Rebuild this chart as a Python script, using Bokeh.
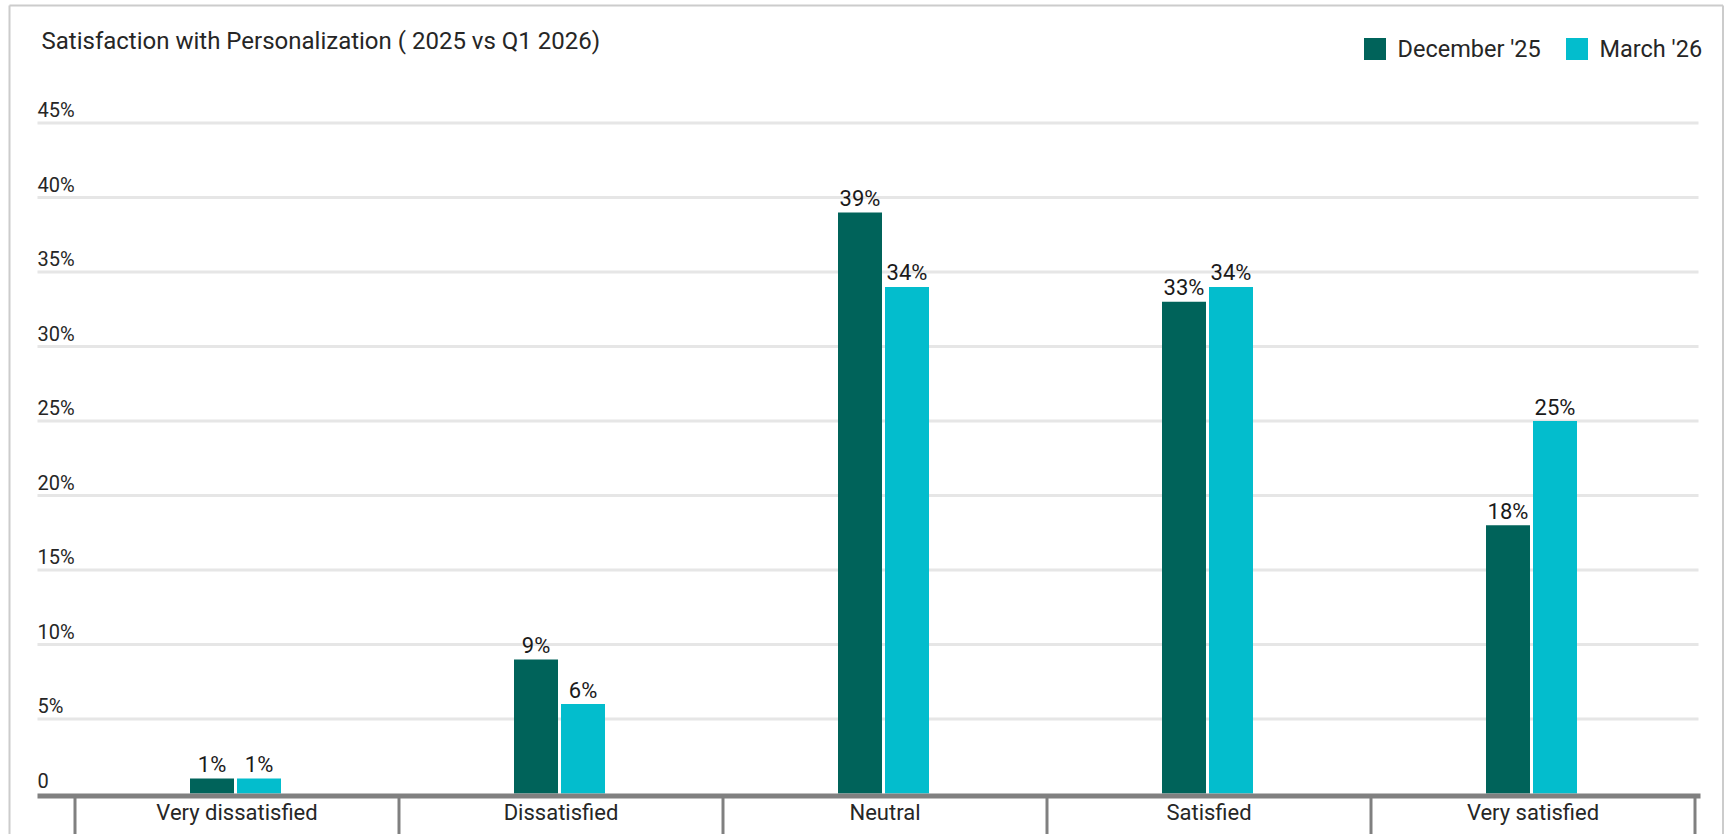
from bokeh.plotting import figure
from bokeh.models import Range1d, ColumnDataSource
from bokeh.core.properties import value
from bokeh.embed import file_html
from bokeh.resources import INLINE
import numpy as np

# ---- data -------------------------------------------------------------
categories = ["Very dissatisfied", "Dissatisfied", "Neutral", "Satisfied", "Very satisfied"]
series_names = ["December '25", "March '26"]
december_25 = [1, 9, 39, 33, 18]
march_26 = [1, 6, 34, 34, 25]
y_ticks = [0, 5, 10, 15, 20, 25, 30, 35, 40, 45]
y_tick_labels = ["0", "5%", "10%", "15%", "20%", "25%", "30%", "35%", "40%", "45%"]
title_text = "Satisfaction with Personalization ( 2025 vs Q1 2026)"

# ---- styling ----------------------------------------------------------
DARK = "#00635a"
CYAN = "#03bdcd"
GRID = "#e6e6e6"
AXIS = "#808080"
FRAME = "#cccccc"
TEXT = "#262626"
FONT = value("Roboto")

W, H = 1735, 834

# page-pixel layout: category band starts at X0_PX, each band CAT_PX wide;
# zero line at Y0_PX, PCT_PX pixels per percentage point
X0_PX, CAT_PX = 74.5, 324.0
Y0_PX, PCT_PX = 793.0, 14.9


def xd(px):
    return (px - X0_PX) / CAT_PX


def yd(px):
    return (Y0_PX - px) / PCT_PX


p = figure(width=W, height=H, output_backend="svg", toolbar_location=None,
           x_range=Range1d(xd(0), xd(W)), y_range=Range1d(yd(H), yd(0)),
           min_border=0, x_axis_type=None, y_axis_type=None)
p.grid.visible = False
p.outline_line_color = None
p.background_fill_color = "white"
p.border_fill_color = "white"

n = len(categories)
plot_left, plot_right = xd(37), xd(1698)

# horizontal gridlines
grid_vals = [t for t in y_ticks if t > 0]
p.segment(x0=[plot_left] * len(grid_vals), x1=[plot_right] * len(grid_vals),
          y0=grid_vals, y1=grid_vals, line_color=GRID, line_width=3)

# y tick labels sit above their gridlines, inside the plot
p.text(x=[plot_left] * len(y_ticks), y=y_ticks, text=y_tick_labels,
       text_font=FONT, text_font_size="20px", text_color=TEXT,
       text_align="left", text_baseline="alphabetic", y_offset=-13)

# bars
bar_w = 44 / CAT_PX
gap = 3 / CAT_PX
centers = np.arange(n) + 0.5
x_dec = centers - gap - bar_w / 2
x_mar = centers + bar_w / 2
src = ColumnDataSource(dict(
    x_dec=x_dec, x_mar=x_mar, dec=december_25, mar=march_26,
    dec_lbl=[f"{v}%" for v in december_25], mar_lbl=[f"{v}%" for v in march_26],
))
p.vbar(x="x_dec", top="dec", bottom=0, width=bar_w, source=src,
       fill_color=DARK, line_color=None)
p.vbar(x="x_mar", top="mar", bottom=0, width=bar_w, source=src,
       fill_color=CYAN, line_color=None)

# value labels
for xs, ys, ls in (("x_dec", "dec", "dec_lbl"), ("x_mar", "mar", "mar_lbl")):
    p.text(x=xs, y=ys, text=ls, source=src, text_font=FONT, text_font_size="22px",
           text_color="#1a1a1a", text_align="center", text_baseline="alphabetic",
           y_offset=-14)

# x axis line and category separators
p.segment(x0=[plot_left], x1=[xd(1700)], y0=[yd(795.5)], y1=[yd(795.5)],
          line_color=AXIS, line_width=5)
bounds = list(range(n + 1))
p.segment(x0=bounds, x1=bounds, y0=[yd(795)] * (n + 1), y1=[yd(H + 10)] * (n + 1),
          line_color=AXIS, line_width=3)

# category labels
p.text(x=centers, y=[yd(812)] * n, text=categories, text_font=FONT,
       text_font_size="22px", text_color=TEXT, text_align="center",
       text_baseline="alphabetic")

# title
p.text(x=[xd(41)], y=[yd(40)], text=[title_text], text_font=FONT,
       text_font_size="24px", text_color=TEXT, text_align="left",
       text_baseline="alphabetic")

# legend
leg_sq_x = [xd(1374.5), xd(1576.5)]
leg_txt_x = [xd(1397), xd(1599)]
p.scatter(x=leg_sq_x, y=[yd(48.5)] * 2, marker="square", size=22,
          fill_color=[DARK, CYAN], line_color=None)
p.text(x=leg_txt_x, y=[yd(48)] * 2, text=series_names, text_font=FONT,
       text_font_size="23.5px", text_color=TEXT, text_align="left",
       text_baseline="alphabetic")

# outer frame
fl, fr, ft = xd(9), xd(1722.5), yd(5)
p.segment(x0=[fl, fr, fl], x1=[fl, fr, fr], y0=[yd(H + 10), yd(H + 10), ft],
          y1=[ft, ft, ft], line_color=FRAME, line_width=2)

open("out.html", "w").write(file_html(p, INLINE))
